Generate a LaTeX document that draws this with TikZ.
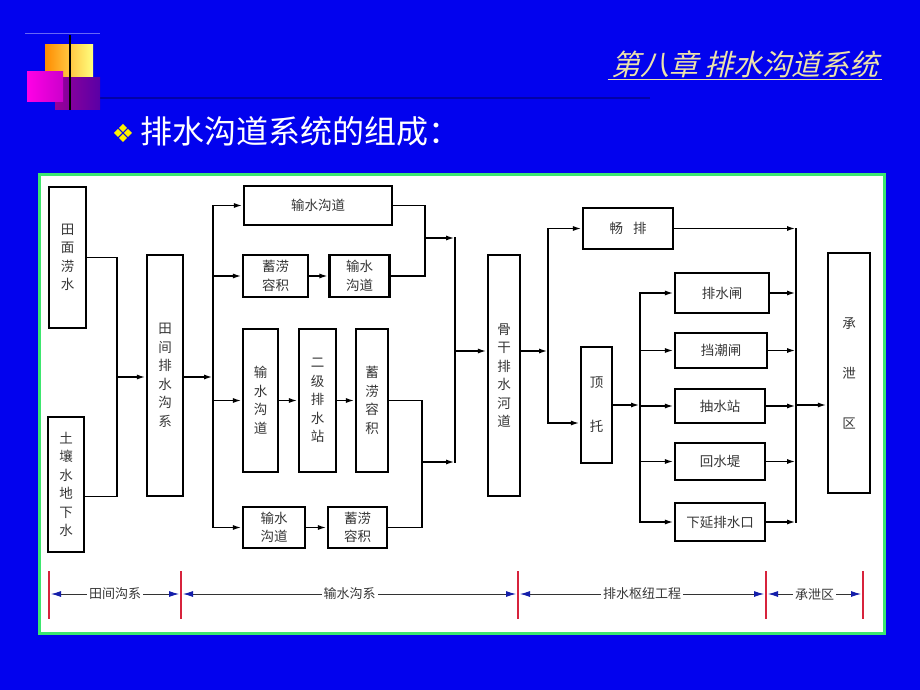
\documentclass[tikz,border=0pt]{standalone}
\usepackage{fontspec}
\newfontfamily\cjk{Noto Sans CJK SC}
\newfontfamily\cjkslant[FakeSlant=0.25]{Noto Sans CJK SC}
\newfontfamily\dingfont{DejaVu Sans}
\usetikzlibrary{arrows.meta}
\definecolor{slide}{RGB}{2,2,238}
\definecolor{framegreen}{RGB}{60,230,110}
\definecolor{txtgray}{RGB}{55,55,55}
\definecolor{tickred}{RGB}{215,35,60}
\definecolor{titleyel}{RGB}{236,226,170}
\definecolor{tipblue}{RGB}{20,30,170}
\tikzset{
 box/.style={draw=black,line width=2.2pt,inner sep=0pt,align=center,text=txtgray,font=\cjk\fontsize{13.5}{18.5}\selectfont},
 sz/.style 2 args={minimum width=#1pt,minimum height=#2pt},
 wire/.style={line width=1.8pt,line cap=rect},
 flow/.style={line width=1.8pt,-{Latex[length=9pt,width=5pt]}},
 tick/.style={draw=tickred,line width=2pt},
 dimln/.style={line width=0.9pt,draw=black!80,{Latex[color=tipblue,length=10pt,width=6pt]}-{Latex[color=tipblue,length=10pt,width=6pt]},shorten <=2pt,shorten >=2pt},
 dimlbl/.style={fill=white,inner sep=2pt,text=txtgray,font=\cjk\fontsize{13}{15}\selectfont}
}
\begin{document}
\begin{tikzpicture}[x=1pt,y=-1pt]
\fill[slide] (0,0) rectangle (920,690);
\useasboundingbox (0,0) rectangle (920,690);
% corner logo
\draw[slide!70!black,line width=2pt] (48,98) -- (650,98);
\draw[slide!60!white,line width=0.6pt] (25,33) -- (100,33);
\shade[left color=orange!90!yellow,right color=yellow!50!white] (45,45) rectangle (93,77);
\shade[left color=violet!80!magenta,right color=violet!70!blue] (55,78) rectangle (100,110);
\shade[left color=magenta!90!red,right color=magenta!60!violet] (27,72) rectangle (63,102);
\draw[black,line width=1.5pt] (70,35) -- (70,110);
% title and heading
\node[text=titleyel,font=\cjkslant\fontsize{29}{32}\selectfont] (ttl) at (745,64) {第八章 排水沟道系统};
\draw[titleyel,line width=1.3pt] ([yshift=-4pt]ttl.base west) -- ([yshift=-4pt]ttl.base east);
\node[text=yellow,font=\dingfont\fontsize{25}{27}\selectfont] (bul) at (123,133) {❖};
\node[anchor=west,text=white,font=\cjk\fontsize{32}{35}\selectfont] (hd) at (137,131) {排水沟道系统的组成：};
% panel
\draw[framegreen,line width=3pt,fill=white] (39,174) rectangle (884,633);
% boxes
\node[box,sz={37}{141}] (tmls) at (67.5,257.5) {田\\面\\涝\\水};
\node[box,sz={36}{135}] (trds) at (66,484.5) {土\\壤\\水\\地\\下\\水};
\node[box,sz={36}{241}] (tjgx) at (165,375.5) {田\\间\\排\\水\\沟\\系};
\node[box,sz={148}{39}] (ssgd1) at (318,205.5) {输水沟道};
\node[box,sz={65}{42}] (xlrj1) at (275.5,276) {蓄涝\\容积};
\node[box,sz={60}{42}] (ssgd2) at (359.5,276) {输水\\沟道};
\node[box,sz={35}{143}] (ssgd3) at (260.5,400.5) {输\\水\\沟\\道};
\node[box,sz={37}{143}] (ejpz) at (317.5,400.5) {二\\级\\排\\水\\站};
\node[box,sz={32}{143}] (xlrj2) at (372,400.5) {蓄\\涝\\容\\积};
\node[box,sz={62}{41}] (ssgd4) at (274,527.5) {输水\\沟道};
\node[box,sz={59}{41}] (xlrj3) at (357.5,527.5) {蓄涝\\容积};
\node[box,sz={32}{241}] (ggph) at (504,375.5) {骨\\干\\排\\水\\河\\道};
\node[box,sz={90}{41}] (cp) at (628,228.5) {畅\hspace{10pt}排};
\node[box,sz={31}{116},font=\cjk\fontsize{13.5}{44}\selectfont] (dt) at (596.5,405) {顶\\托};
\node[box,sz={94}{40}] (psz) at (722,293) {排水闸};
\node[box,sz={92}{35}] (dcz) at (721,350.5) {挡潮闸};
\node[box,sz={90}{34}] (csz) at (720,406) {抽水站};
\node[box,sz={90}{37}] (hsd) at (720,461.5) {回水堤};
\node[box,sz={90}{38}] (xyps) at (720,522) {下延排水口};
\node[box,sz={42}{240},font=\cjk\fontsize{13.5}{50}\selectfont] (cxq) at (849,373) {承\\泄\\区};
% junctions
\coordinate (b1) at (117,377);
\coordinate (b2) at (213,377);
\coordinate (m1) at (425,238);
\coordinate (m2) at (422,462);
\coordinate (b3) at (455,351);
\coordinate (b4) at (548,351);
\coordinate (b5) at (640,405);
\coordinate (b6) at (796,405);
\coordinate (dtin) at ([yshift=-18pt]dt.west);
% field ditches
\draw[wire] (tmls.east) -| (b1) |- ([yshift=-12pt]trds.east);
\draw[flow] (b1) -- (b1 -| tjgx.west);
\draw[flow] (b2 -| tjgx.east) -- (b2);
\draw[wire] (b2 |- ssgd1) -- (b2 |- ssgd4);
\foreach \n in {ssgd1,xlrj1,ssgd3,ssgd4}
  \draw[flow] (b2 |- \n) -- (\n.west);
\draw[flow] (xlrj1) -- (ssgd2);
\draw[flow] (ssgd3) -- (ejpz);
\draw[flow] (ejpz) -- (xlrj2);
\draw[flow] (ssgd4) -- (xlrj3);
\draw[wire] (ssgd1.east) -| (m1) |- (ssgd2.east);
\draw[wire] (xlrj2.east) -| (m2) |- (xlrj3.east);
\draw[flow] (m1) -- (m1 -| b3);
\draw[flow] (m2) -- (m2 -| b3);
\draw[wire] (b3 |- m1) -- (b3 |- m2);
\draw[flow] (b3) -- (b3 -| ggph.west);
% outlet works
\draw[flow] (b4 -| ggph.east) -- (b4);
\draw[wire] (b4 |- cp) -- (b4 |- dtin);
\draw[flow] (b4 |- cp) -- (cp.west);
\draw[flow] (b4 |- dtin) -- (dtin);
\draw[flow] (dt.east) -- (b5);
\draw[wire] (b5 |- psz) -- (b5 |- xyps);
\foreach \n in {psz,dcz,csz,hsd,xyps}{
  \draw[flow] (b5 |- \n) -- (\n.west);
  \draw[flow] (\n.east) -- (\n.east -| b6);
}
\draw[flow] (cp.east) -- (cp.east -| b6);
\draw[wire] (b6 |- cp) -- (b6 |- xyps);
\draw[flow] (b6) -- (b6 -| cxq.west);
% bottom scale
\coordinate (t0) at (49,594);
\coordinate (t1) at (181,594);
\coordinate (t2) at (518,594);
\coordinate (t3) at (766,594);
\coordinate (t4) at (863,594);
\draw[dimln] (t0) -- node[dimlbl]{田间沟系} (t1);
\draw[dimln] (t1) -- node[dimlbl]{输水沟系} (t2);
\draw[dimln] (t2) -- node[dimlbl]{排水枢纽工程} (t3);
\draw[dimln] (t3) -- node[dimlbl]{承泄区} (t4);
\foreach \t in {t0,t1,t2,t3,t4}
  \draw[tick] ([yshift=23pt]\t) -- ([yshift=-25pt]\t);
\end{tikzpicture}
\end{document}
